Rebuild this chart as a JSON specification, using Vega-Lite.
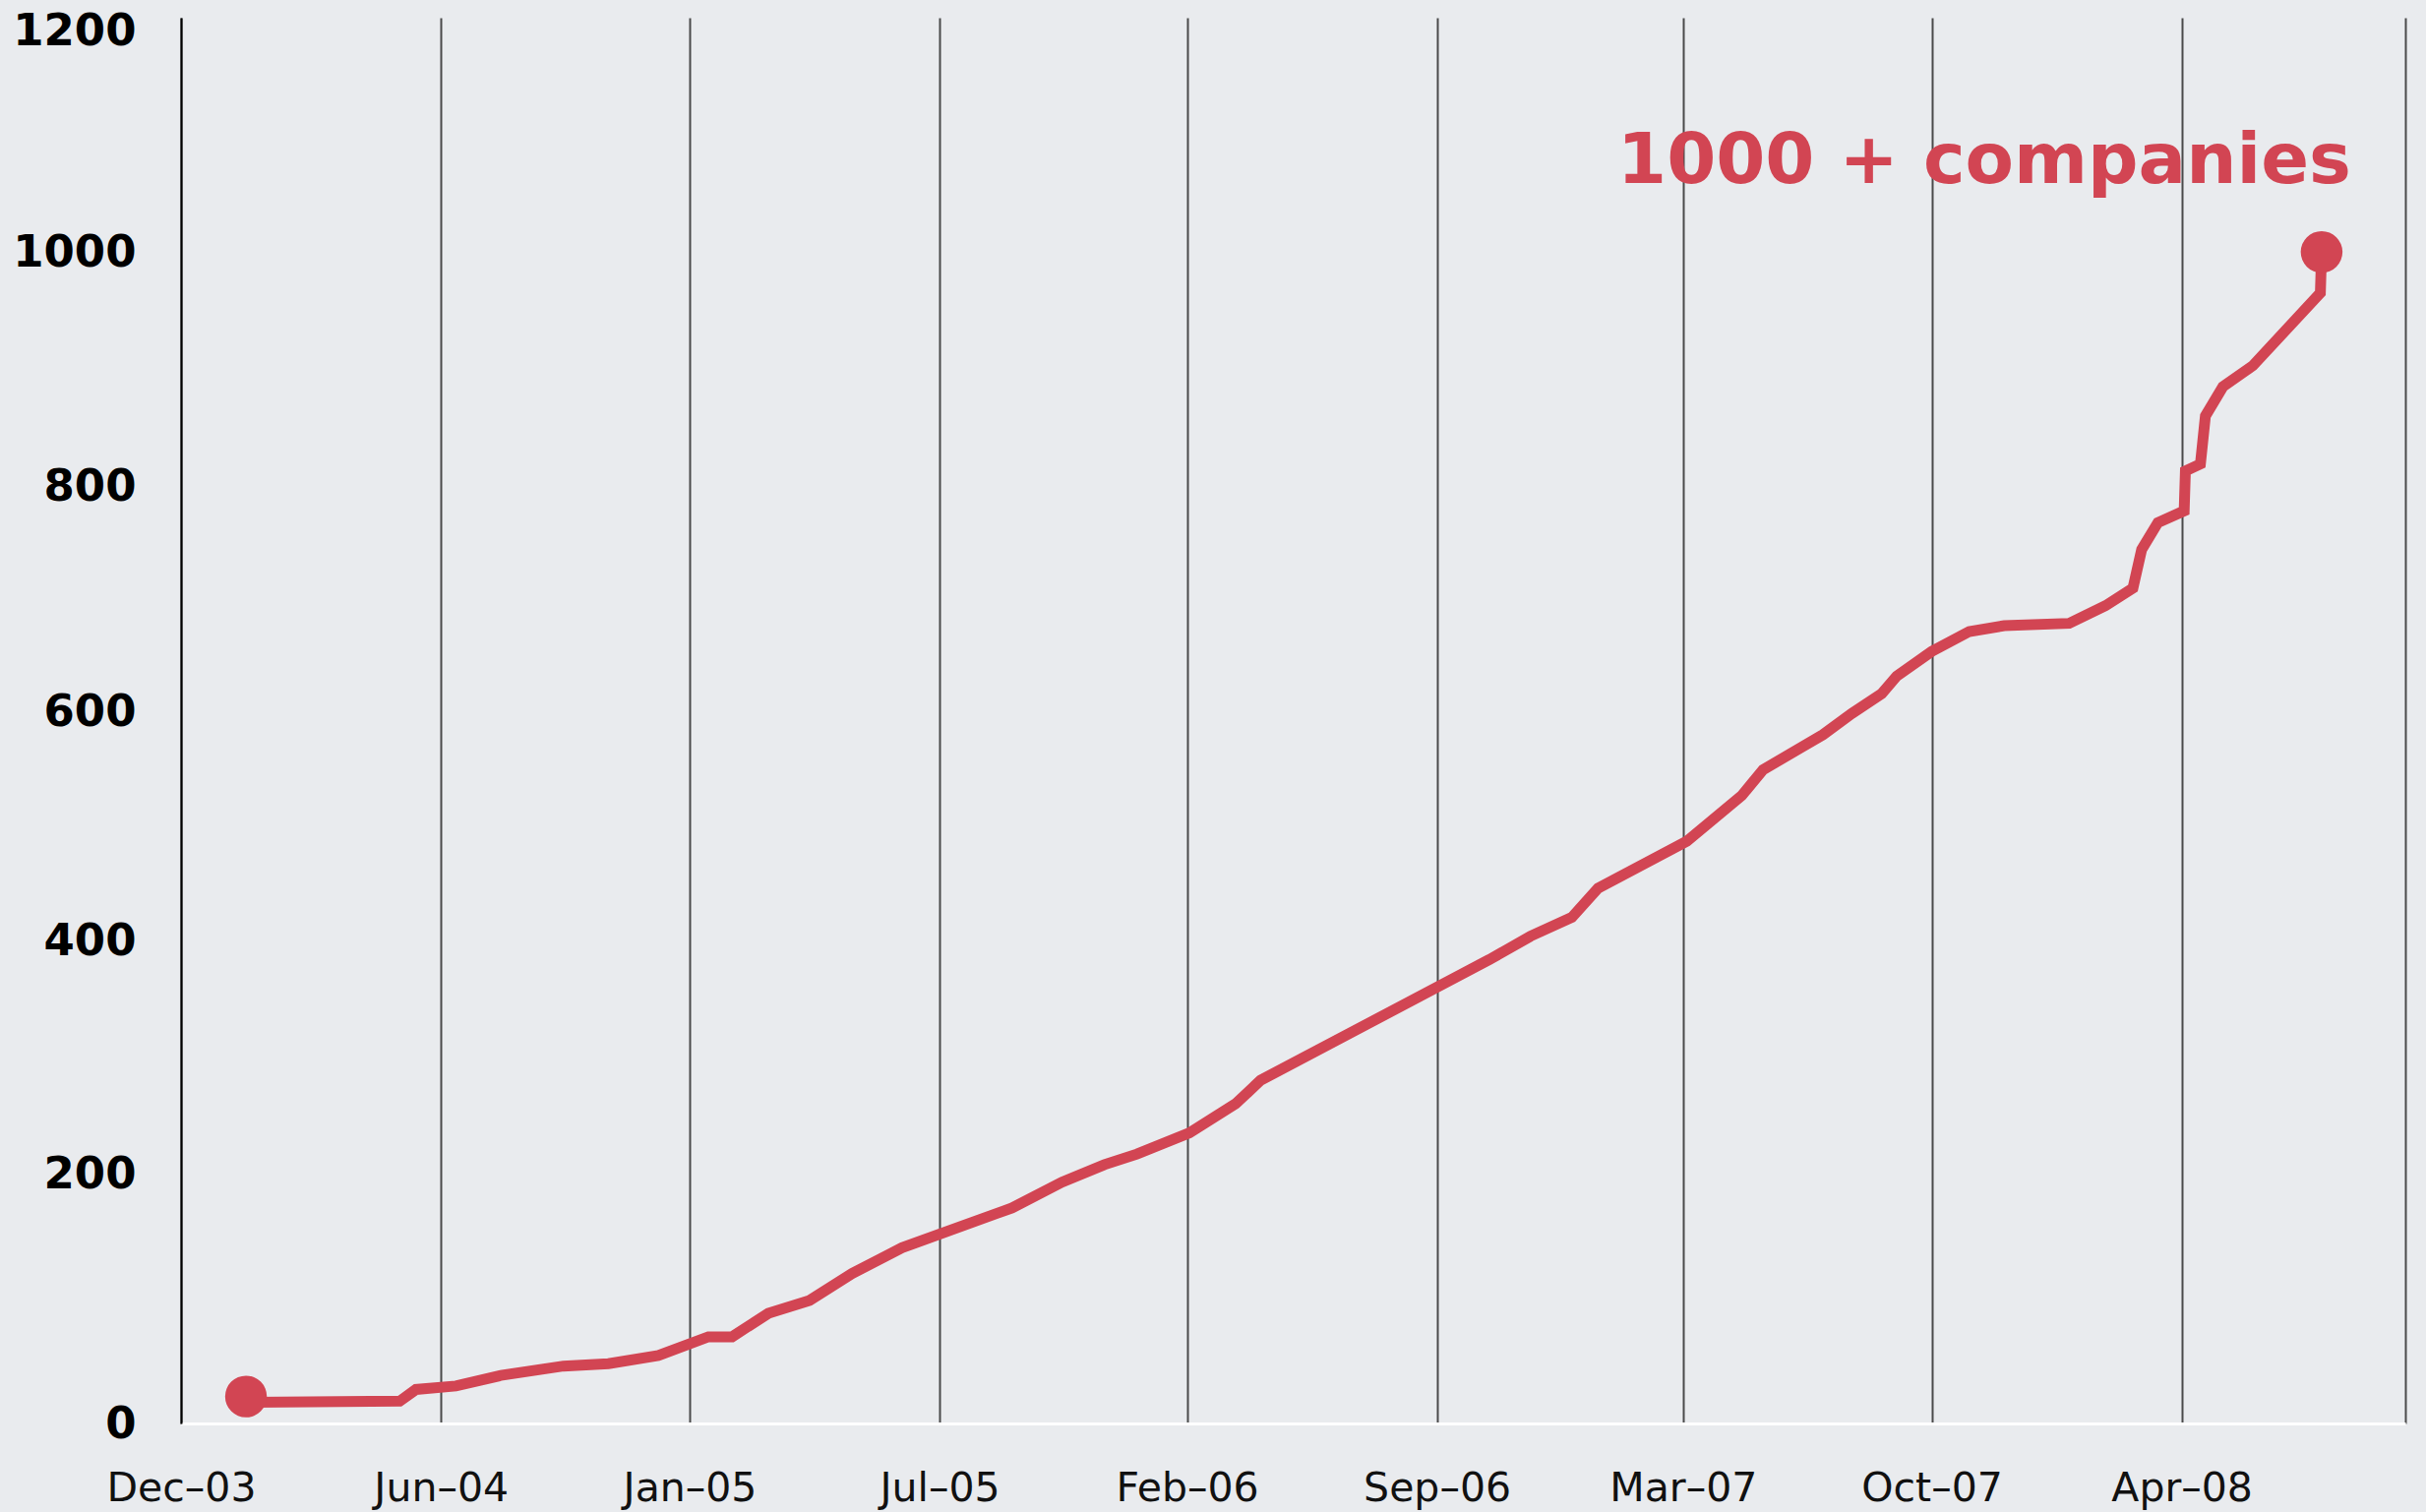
{
  "$schema": "https://vega.github.io/schema/vega-lite/v6.json",
  "width": 2261,
  "height": 1429,
  "autosize": {"type": "none"},
  "padding": {"left": 184, "top": 18, "right": 21, "bottom": 90},
  "background": "#e9ebee",
  "config": {"view": {"stroke": null}},
  "datasets": {
    "series": [
      {"date": "2004-01-22", "companies": 18},
      {"date": "2004-05-24", "companies": 19},
      {"date": "2004-06-06", "companies": 29},
      {"date": "2004-07-08", "companies": 32},
      {"date": "2004-08-13", "companies": 41},
      {"date": "2004-10-02", "companies": 49},
      {"date": "2004-11-07", "companies": 51},
      {"date": "2004-12-17", "companies": 58},
      {"date": "2005-01-26", "companies": 74},
      {"date": "2005-02-14", "companies": 74},
      {"date": "2005-03-15", "companies": 94},
      {"date": "2005-04-17", "companies": 105},
      {"date": "2005-05-21", "companies": 128},
      {"date": "2005-06-30", "companies": 150},
      {"date": "2005-09-26", "companies": 184},
      {"date": "2005-11-05", "companies": 206},
      {"date": "2005-12-09", "companies": 221},
      {"date": "2006-01-04", "companies": 230},
      {"date": "2006-02-15", "companies": 248},
      {"date": "2006-03-24", "companies": 273},
      {"date": "2006-04-13", "companies": 293},
      {"date": "2006-10-13", "companies": 396},
      {"date": "2006-11-15", "companies": 416},
      {"date": "2006-12-18", "companies": 432},
      {"date": "2007-01-08", "companies": 457},
      {"date": "2007-03-20", "companies": 497},
      {"date": "2007-05-03", "companies": 536},
      {"date": "2007-05-20", "companies": 558},
      {"date": "2007-07-07", "companies": 588},
      {"date": "2007-07-30", "companies": 606},
      {"date": "2007-08-23", "companies": 623},
      {"date": "2007-09-04", "companies": 638},
      {"date": "2007-10-02", "companies": 659},
      {"date": "2007-11-01", "companies": 676},
      {"date": "2007-11-29", "companies": 681},
      {"date": "2008-01-20", "companies": 683},
      {"date": "2008-02-18", "companies": 698},
      {"date": "2008-03-11", "companies": 713},
      {"date": "2008-03-18", "companies": 746},
      {"date": "2008-03-31", "companies": 769},
      {"date": "2008-04-21", "companies": 779},
      {"date": "2008-04-22", "companies": 813},
      {"date": "2008-05-04", "companies": 819},
      {"date": "2008-05-08", "companies": 860},
      {"date": "2008-05-22", "companies": 885},
      {"date": "2008-06-15", "companies": 903},
      {"date": "2008-08-08", "companies": 965},
      {"date": "2008-08-09", "companies": 1000}
    ],
    "markers": [
      {"date": "2004-01-22", "companies": 23},
      {"date": "2008-08-09", "companies": 1000}
    ],
    "notes": [
      {"date": "2007-11-13", "companies": 1059, "label": "1000 + companies"}
    ]
  },
  "encoding": {
    "x": {
      "field": "date",
      "type": "temporal",
      "scale": {
        "type": "utc",
        "domain": [
          {"year": 2003, "month": 12, "date": 1, "utc": true},
          {"year": 2008, "month": 10, "date": 15, "utc": true}
        ],
        "nice": false
      },
      "axis": {
        "title": null,
        "values": [
          {"year": 2003, "month": 12, "date": 1, "utc": true},
          {"year": 2004, "month": 6, "date": 26, "utc": true},
          {"year": 2005, "month": 1, "date": 11, "utc": true},
          {"year": 2005, "month": 7, "date": 30, "utc": true},
          {"year": 2006, "month": 2, "date": 13, "utc": true},
          {"year": 2006, "month": 9, "date": 1, "utc": true},
          {"year": 2007, "month": 3, "date": 17, "utc": true},
          {"year": 2007, "month": 10, "date": 2, "utc": true},
          {"year": 2008, "month": 4, "date": 19, "utc": true},
          {"year": 2008, "month": 10, "date": 15, "utc": true}
        ],
        "labelExpr": "datum.value > utc(2008, 8, 1) ? '' : utcFormat(datum.value, '%b') + '–' + utcFormat(datum.value, '%y')",
        "grid": true,
        "gridColor": "#4a4a4a",
        "gridWidth": 2,
        "gridOpacity": 1,
        "ticks": false,
        "tickSize": 0,
        "domain": true,
        "domainColor": "#ffffff",
        "domainWidth": 3,
        "labelFont": "DejaVu Sans",
        "labelFontSize": 41,
        "labelColor": "#111111",
        "labelBaseline": "alphabetic",
        "labelAlign": "center",
        "labelPadding": 78,
        "labelOverlap": false,
        "labelBound": false,
        "labelFlush": false
      }
    },
    "y": {
      "field": "companies",
      "type": "quantitative",
      "scale": {"domain": [0, 1200], "nice": false, "zero": true},
      "axis": {
        "title": null,
        "format": "d",
        "values": [0, 200, 400, 600, 800, 1000, 1200],
        "grid": false,
        "ticks": false,
        "tickSize": 0,
        "domain": true,
        "domainColor": "#000000",
        "domainWidth": 2,
        "labelFont": "DejaVu Sans",
        "labelFontWeight": "bold",
        "labelFontSize": 45,
        "labelColor": "#000000",
        "labelPadding": 46,
        "labelBaseline": "middle",
        "labelOffset": {
          "condition": [
            {"test": "datum.value == 1200", "value": 13},
            {"test": "datum.value == 200", "value": -15},
            {"test": "datum.value == 400", "value": -14},
            {"test": "datum.value == 600", "value": -9}
          ],
          "value": 0
        },
        "labelOverlap": false,
        "labelBound": false,
        "labelFlush": false
      }
    }
  },
  "layer": [
    {
      "data": {"name": "series"},
      "mark": {"type": "line", "color": "#d24553", "strokeWidth": 11, "strokeJoin": "miter"}
    },
    {
      "data": {"name": "markers"},
      "mark": {"type": "point", "filled": true, "color": "#d24553", "size": 1800, "opacity": 1}
    },
    {
      "data": {"name": "notes"},
      "mark": {"type": "text", "color": "#d24553", "font": "DejaVu Sans", "fontWeight": "bold", "fontSize": 72, "align": "center", "baseline": "alphabetic"},
      "encoding": {"text": {"field": "label"}}
    }
  ]
}
